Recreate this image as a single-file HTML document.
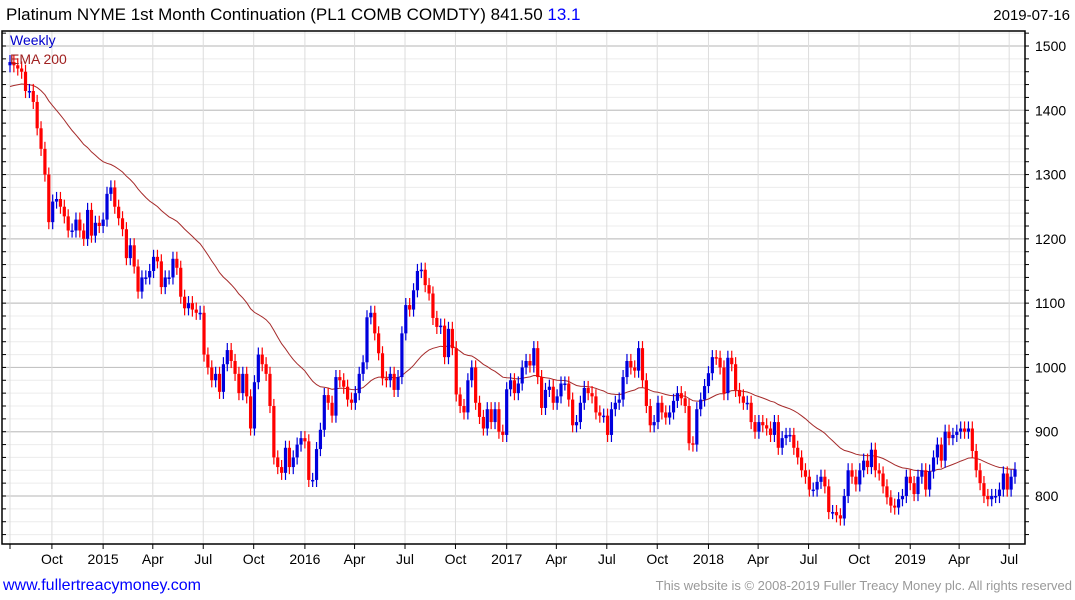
<!DOCTYPE html>
<html><head><meta charset="utf-8"><style>
body{margin:0;background:#fff;}
svg{display:block;font-family:"Liberation Sans",sans-serif;}
</style></head><body>
<svg id="chart" width="1075" height="600" viewBox="0 0 1075 600">
<text x="6" y="20" font-size="17" fill="#000">Platinum NYME 1st Month Continuation (PL1 COMB COMDTY) 841.50 <tspan fill="#0000ff">13.1</tspan></text>
<text x="1070" y="20" font-size="15" fill="#000" text-anchor="end">2019-07-16</text>
<g id="grid"></g>
<g id="ema"></g>
<g id="candles"></g>
<g id="axes"></g>
<text x="10" y="45" font-size="14" fill="#0000cc">Weekly</text>
<text x="10" y="64" font-size="14" fill="#a02020">EMA 200</text>
<text x="3" y="590" font-size="16" fill="#0000ff">www.fullertreacymoney.com</text>
<text x="1072" y="590" font-size="13" fill="#999" text-anchor="end">This website is © 2008-2019 Fuller Treacy Money plc. All rights reserved</text>
</svg>
<script>
const closes = [
1475,1470,1465,1460,1430,1430,1413,1372,1340,1300,
1226,1258,1262,1250,1235,1213,1213,1230,1213,1200,
1245,1205,1225,1220,1230,1270,1280,1250,1232,1215,
1170,1190,1157,1118,1140,1140,1150,1172,1165,1125,
1140,1140,1169,1155,1110,1092,1100,1090,1085,1085,
1020,1000,980,990,962,1005,1027,1010,990,960,
990,955,905,977,1020,1005,990,940,860,845,
836,875,845,860,880,890,885,825,825,873,
903,957,945,925,985,980,970,950,945,960,
990,1008,1078,1085,1053,1022,983,980,990,965,
985,1053,1097,1090,1120,1150,1152,1128,1115,1077,
1063,1065,1016,1060,1030,958,940,930,980,1000,
945,923,905,935,915,935,900,895,966,980,
960,975,1000,1010,1003,1030,985,937,965,970,
945,955,975,975,950,910,915,945,968,960,
955,930,925,925,895,935,945,950,985,1010,
1000,995,1030,980,940,910,915,945,930,922,
930,948,960,952,940,882,880,935,950,971,
991,1016,1015,1000,960,1015,1005,965,955,945,
945,915,900,915,910,905,895,915,875,890,
895,895,875,860,840,830,810,810,822,830,
815,775,775,770,765,800,840,830,818,840,
855,845,872,840,835,815,798,785,782,795,
800,830,820,803,830,840,810,838,860,880,
855,900,890,895,900,905,900,905,870,840,
820,800,795,800,800,810,835,810,830,841.5];
const firstOpen = 1470;
const emaSeed = 1435;
const yTicks = [800,900,1000,1100,1200,1300,1400,1500];
const xTickLabels = ["","Oct","2015","Apr","Jul","Oct","2016","Apr","Jul","Oct","2017","Apr","Jul","Oct","2018","Apr","Jul","Oct","2019","Apr","Jul"];
const xTickWeeks = [0,10.8,24,36.8,49.8,62.8,76,88.8,101.8,114.8,128,140.8,153.8,166.8,180,192.8,205.8,218.8,232,244.6,257.5];

const NS="http://www.w3.org/2000/svg";
const L=2,R=1025,T=31,B=544;
const X0=10,X1=1015;
function xS(i){return X0+i*(X1-X0)/(closes.length-1);}
function yS(v){return 496-(v-800)*450/700;}
function mk(tag,attrs,parent){const e=document.createElementNS(NS,tag);for(const k in attrs)e.setAttribute(k,attrs[k]);parent.appendChild(e);return e;}
const grid=document.getElementById('grid'),cg=document.getElementById('candles'),ax=document.getElementById('axes'),eg=document.getElementById('ema');

for(let v=740;v<=1520;v+=20){const y=yS(v);if(y<T||y>B)continue;
 const major=v%100===0;
 const l=mk('line',{x1:L,x2:R,y1:y,y2:y,stroke:major?'#c4c4c4':'#ececec','stroke-width':major?1.2:1},grid);
 
 
 const t=mk('line',{x1:R,x2:R+4,y1:y,y2:y,stroke:'#000'},ax);
 
 
 const t2=mk('line',{x1:L,x2:L+4,y1:y,y2:y,stroke:'#000'},ax);
 
 
}
yTicks.forEach(v=>{const tx=mk('text',{x:R+10,y:yS(v)+5,'font-size':14,fill:'#000'},ax);tx.textContent=v;
 
 });
xTickWeeks.forEach((w,k)=>{const x=xS(w);
 const gl=mk('line',{x1:x,x2:x,y1:T,y2:B,stroke:'#dcdcdc'},grid);
 
 
 const tk=mk('line',{x1:x,x2:x,y1:B,y2:B+5,stroke:'#000'},ax);
 
 
 if(xTickLabels[k]){const tx=mk('text',{x:x,y:564,'font-size':14,fill:'#000','text-anchor':'middle'},ax);tx.textContent=xTickLabels[k];
 
 }
});
const frame=mk('path',{d:`M${L},${T}H${R}V${B}H${L}Z`,fill:'none',stroke:'#000','stroke-width':1.5},ax);



let e=emaSeed,pts=[];const a=2/41;
closes.forEach((c,i)=>{e=e+a*(c-e);pts.push(xS(i).toFixed(1)+','+yS(e).toFixed(1));});
const pl=mk('polyline',{points:pts.join(' '),fill:'none',stroke:'#a52a2a','stroke-width':1},eg);



closes.forEach((c,i)=>{const o=i===0?firstOpen:closes[i-1];const x=xS(i);
 const up=c>=o;const col=up?'#0000dd':'#ff0000';
 const hi=Math.max(o,c)+11,lo=Math.min(o,c)-11;
 const w=mk('line',{x1:x,x2:x,y1:yS(hi),y2:yS(lo),stroke:col,'stroke-width':1.2},cg);
 
 
 const y1=yS(Math.max(o,c)),y2=yS(Math.min(o,c));
 const b=mk('rect',{x:x-1.6,y:y1,width:3.2,height:Math.max(1.5,y2-y1),fill:col},cg);
 
 
});
</script>
</body></html>
